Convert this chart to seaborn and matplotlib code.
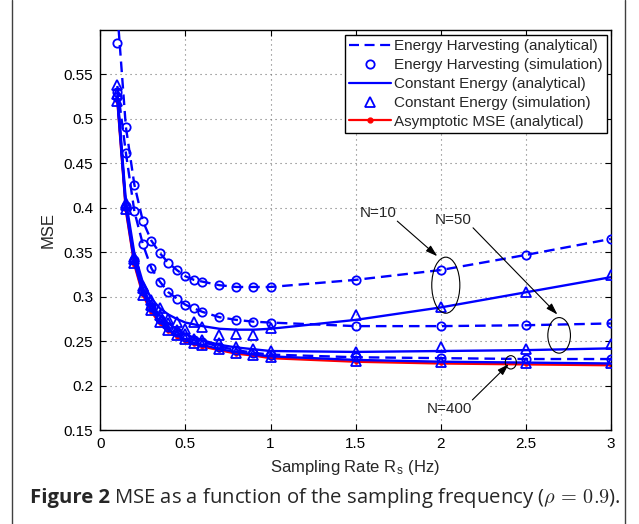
import numpy as np
import pandas as pd
import seaborn as sns
import matplotlib
matplotlib.use("Agg")
from matplotlib import pyplot as plt
from matplotlib.lines import Line2D
from matplotlib.patches import Ellipse

# sampling rates (Hz)
rate = [0.1, 0.15, 0.2, 0.25, 0.3, 0.35, 0.4, 0.45, 0.5, 0.55, 0.6,
        0.7, 0.8, 0.9, 1.0, 1.5, 2.0, 2.5, 3.0]

# energy harvesting, analytical / simulation
eh10_ana = [0.620, 0.491, 0.426, 0.385, 0.363, 0.349, 0.338, 0.330, 0.323, 0.319, 0.317,
            0.313, 0.311, 0.311, 0.311, 0.319, 0.330, 0.347, 0.365]
eh10_sim = [0.585, 0.491, 0.426, 0.385, 0.363, 0.349, 0.338, 0.330, 0.323, 0.319, 0.317,
            0.313, 0.311, 0.311, 0.311, 0.319, 0.330, 0.347, 0.365]
eh50_ana = [0.537, 0.462, 0.396, 0.359, 0.332, 0.317, 0.305, 0.298, 0.291, 0.287, 0.283,
            0.277, 0.274, 0.272, 0.271, 0.267, 0.267, 0.268, 0.270]
eh50_sim = [0.530, 0.462, 0.396, 0.359, 0.332, 0.317, 0.305, 0.298, 0.291, 0.287, 0.283,
            0.277, 0.274, 0.272, 0.271, 0.267, 0.267, 0.268, 0.270]
eh400_ana = [0.525, 0.402, 0.341, 0.307, 0.288, 0.275, 0.266, 0.260, 0.255, 0.251, 0.249,
             0.244, 0.240, 0.237, 0.235, 0.232, 0.231, 0.230, 0.230]
eh400_sim = [0.525, 0.402, 0.341, 0.307, 0.288, 0.275, 0.266, 0.260, 0.255, 0.251, 0.249,
             0.244, 0.240, 0.237, 0.235, 0.232, 0.231, 0.230, 0.230]

# constant energy, analytical / simulation
ce10_ana = [0.530, 0.408, 0.349, 0.316, 0.298, 0.287, 0.280, 0.275, 0.271, 0.269, 0.267,
            0.264, 0.263, 0.263, 0.264, 0.274, 0.288, 0.305, 0.322]
ce10_sim = [0.538, 0.405, 0.345, 0.310, 0.296, 0.287, 0.275, 0.272, 0.264, 0.272, 0.266,
            0.257, 0.258, 0.257, 0.265, 0.279, 0.288, 0.305, 0.324]
ce50_ana = [0.525, 0.403, 0.343, 0.310, 0.291, 0.279, 0.270, 0.263, 0.258, 0.254, 0.251,
            0.246, 0.243, 0.241, 0.239, 0.238, 0.239, 0.240, 0.242]
ce50_sim = [0.528, 0.403, 0.343, 0.312, 0.291, 0.279, 0.270, 0.263, 0.258, 0.252, 0.251,
            0.248, 0.243, 0.241, 0.239, 0.238, 0.243, 0.241, 0.247]
ce400_ana = [0.522, 0.399, 0.338, 0.304, 0.285, 0.272, 0.263, 0.257, 0.252, 0.248, 0.246,
             0.241, 0.238, 0.235, 0.233, 0.229, 0.227, 0.226, 0.225]
ce400_sim = [0.520, 0.399, 0.338, 0.302, 0.285, 0.272, 0.263, 0.257, 0.252, 0.248, 0.246,
             0.241, 0.237, 0.235, 0.232, 0.228, 0.227, 0.226, 0.225]

# asymptotic MSE
asym = [0.520, 0.397, 0.336, 0.302, 0.283, 0.270, 0.262, 0.255, 0.250, 0.247, 0.244,
        0.240, 0.236, 0.234, 0.231, 0.227, 0.225, 0.224, 0.223]

xticks = [0, 0.5, 1, 1.5, 2, 2.5, 3]
xticklabels = ["0", "0.5", "1", "1.5", "2", "2.5", "3"]
yticks = [0.15, 0.2, 0.25, 0.3, 0.35, 0.4, 0.45, 0.5, 0.55]
yticklabels = ["0.15", "0.2", "0.25", "0.3", "0.35", "0.4", "0.45", "0.5", "0.55"]

sns.set_style("ticks")
plt.rcParams["font.family"] = ["Liberation Sans", "DejaVu Sans"]
plt.rcParams["mathtext.fontset"] = "cm"

fig = plt.figure(figsize=(6.39, 5.24), dpi=100)
ax = fig.add_axes([0.157, 0.179, 0.799, 0.764])

dash = (0, (4.5, 2.5))
blue = "#0000ff"

sns.lineplot(x=rate, y=asym, ax=ax, color="red", lw=1.7, marker=".", ms=5,
             mec="red", zorder=2)

for ana in [eh10_ana, eh50_ana, eh400_ana]:
    sns.lineplot(x=rate, y=ana, ax=ax, color=blue, lw=1.7, linestyle=dash, zorder=3)
for sim in [eh10_sim, eh50_sim, eh400_sim]:
    sns.lineplot(x=rate, y=sim, ax=ax, color=blue, linestyle="none", marker="o",
                 ms=6, mfc="none", mec=blue, mew=1.3, zorder=4)
for ana in [ce10_ana, ce50_ana, ce400_ana]:
    sns.lineplot(x=rate, y=ana, ax=ax, color=blue, lw=1.7, zorder=3)
for sim in [ce10_sim, ce50_sim, ce400_sim]:
    sns.lineplot(x=rate, y=sim, ax=ax, color=blue, linestyle="none", marker="^",
                 ms=6.5, mfc="none", mec=blue, mew=1.3, zorder=4)

ax.set_xlim(0, 3)
ax.set_ylim(0.15, 0.6)
ax.set_xticks(xticks)
ax.set_xticklabels(xticklabels)
ax.set_yticks(yticks)
ax.set_yticklabels(yticklabels)
ax.tick_params(direction="in", top=True, right=True, length=4, width=0.8,
               labelsize=11, colors="black", pad=5)
for s in ax.spines.values():
    s.set_visible(True)
    s.set_color("black")
    s.set_linewidth(1.0)
ax.grid(True, linestyle=(0, (1, 3.5)), color="0.45", lw=0.8)
ax.set_axisbelow(True)

ax.set_xlabel("Sampling Rate R$_\\mathregular{s}$ (Hz)", fontsize=12, labelpad=5)
ax.set_ylabel("MSE", fontsize=12, labelpad=6)

handles = [
    Line2D([], [], color=blue, lw=1.6, linestyle=dash),
    Line2D([], [], color=blue, linestyle="none", marker="o", ms=6, mfc="none", mew=1.3),
    Line2D([], [], color=blue, lw=1.6),
    Line2D([], [], color=blue, linestyle="none", marker="^", ms=6.5, mfc="none", mew=1.3),
    Line2D([], [], color="red", lw=1.6, marker=".", ms=7),
]
labels = ["Energy Harvesting (analytical)", "Energy Harvesting (simulation)",
          "Constant Energy (analytical)", "Constant Energy (simulation)",
          "Asymptotic MSE (analytical)"]
leg = ax.legend(handles, labels, loc="upper right", bbox_to_anchor=(0.992, 0.988),
                fontsize=11, frameon=True, fancybox=False, framealpha=1,
                edgecolor="black", handlelength=2.7, handletextpad=0.2,
                labelspacing=0.32, borderpad=0.3, borderaxespad=0)
leg.get_frame().set_linewidth(1.0)

# annotations
arrow = dict(arrowstyle="-|>,head_length=0.7,head_width=0.22", color="black", lw=0.8,
             shrinkA=0, shrinkB=0)
ax.text(1.635, 0.394, "N=10", fontsize=11, ha="center", va="center")
ax.annotate("", xy=(1.98, 0.3456), xytext=(1.745, 0.385), arrowprops=arrow)
ax.add_patch(Ellipse((2.03, 0.313), 0.165, 0.063, fill=False, ec="black", lw=0.8, zorder=6))

ax.text(2.075, 0.386, "N=50", fontsize=11, ha="center", va="center")
ax.annotate("", xy=(2.686, 0.28), xytext=(2.19, 0.3775), arrowprops=arrow)
ax.add_patch(Ellipse((2.696, 0.2566), 0.133, 0.040, fill=False, ec="black", lw=0.8, zorder=6))

ax.text(2.05, 0.1737, "N=400", fontsize=11, ha="center", va="center")
ax.annotate("", xy=(2.40, 0.2243), xytext=(2.186, 0.184), arrowprops=arrow)
ax.add_patch(Ellipse((2.412, 0.2263), 0.065, 0.015, fill=False, ec="black", lw=0.8, zorder=6))

# page frame lines
for xp in [12 / 639, 625 / 639]:
    fig.add_artist(Line2D([xp, xp], [0, 1], transform=fig.transFigure, color="0.25", lw=1.0))

# caption
cap_y = 1 - 498 / 524
t1 = fig.text(30 / 639, cap_y, "Figure 2", fontsize=14.6, weight="bold",
              family=["Open Sans", "DejaVu Sans"], va="center")
fig.canvas.draw()
bb = t1.get_window_extent().transformed(fig.transFigure.inverted())
fig.text(bb.x1 + 4 / 639, cap_y, "MSE as a function of the sampling frequency ($\\rho\\,=\\,0.9$).",
         fontsize=14.6, family=["Open Sans", "DejaVu Sans"], va="center")

fig.savefig("out.png", dpi=100)
